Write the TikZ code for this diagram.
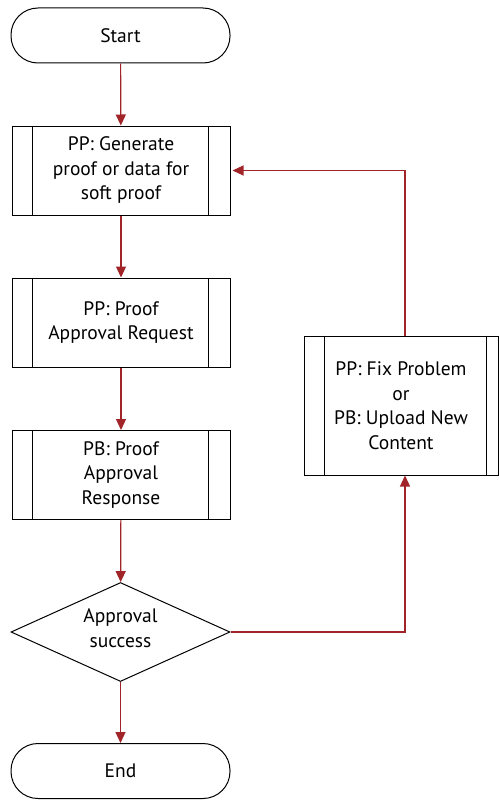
\documentclass[tikz,border=0pt]{standalone}
\usepackage{fontspec}
\setmainfont{PT Sans}
\usetikzlibrary{shapes.geometric,arrows.meta}
\definecolor{arr}{RGB}{160,36,40}
\begin{document}
\begin{tikzpicture}[x=1pt,y=-1pt,
  every node/.style={font=\fontsize{19.5}{24.5}\selectfont},
  term/.style={draw,line width=1pt,rounded corners=27pt,minimum width=219pt,minimum height=55pt,inner sep=0pt},
  proc/.style={draw,line width=1pt,minimum width=218pt,minimum height=89pt,align=center,inner sep=0pt},
  dec/.style={draw,line width=1pt,diamond,minimum width=219pt,minimum height=99pt,inner sep=0pt,aspect=2.2,align=center},
  conn/.style={draw=arr,line width=1.2pt,-{Triangle[length=11pt,width=10pt]}}]
\useasboundingbox (0,0) rectangle (498,800);
\node[term] (start) at (120.5,35.5) {Start};
\node[proc] (p1) at (121,170.5) {PP: Generate\\proof or data for\\soft proof};
\node[proc] (p2) at (121,322.5) {PP: Proof\\Approval Request};
\node[proc] (p3) at (121,475) {PB: Proof\\Approval\\Response};
\node[dec] (d) at (120.5,632) {};
\node[align=center] (dt) at (120.5,628) {Approval\\success};
\node[term] (end) at (120.5,771) {End};
\node[draw,line width=1pt,minimum width=194pt,minimum height=139pt,inner sep=0pt,align=center] (fix) at (401,405.5) {PP: Fix Problem\\or\\PB: Upload New\\Content};
\foreach \n in {p1,p2,p3}{
  \draw[line width=1pt] ([xshift=21pt]\n.north west) -- ([xshift=21pt]\n.south west);
  \draw[line width=1pt] ([xshift=-22pt]\n.north east) -- ([xshift=-22pt]\n.south east);
}
\draw[line width=1pt] ([xshift=21pt]fix.north west) -- ([xshift=21pt]fix.south west);
\draw[line width=1pt] ([xshift=-12pt]fix.north east) -- ([xshift=-12pt]fix.south east);
\draw[conn] (start) -- (p1);
\draw[conn] (p1) -- (p2);
\draw[conn] (p2) -- (p3);
\draw[conn] (p3) -- (d);
\draw[conn] (d) -- (end);
\draw[conn] (d.east) -| ([xshift=4pt]fix.south);
\draw[conn] ([xshift=4pt]fix.north) |- ([xshift=2pt]p1.east);
\end{tikzpicture}
\end{document}
